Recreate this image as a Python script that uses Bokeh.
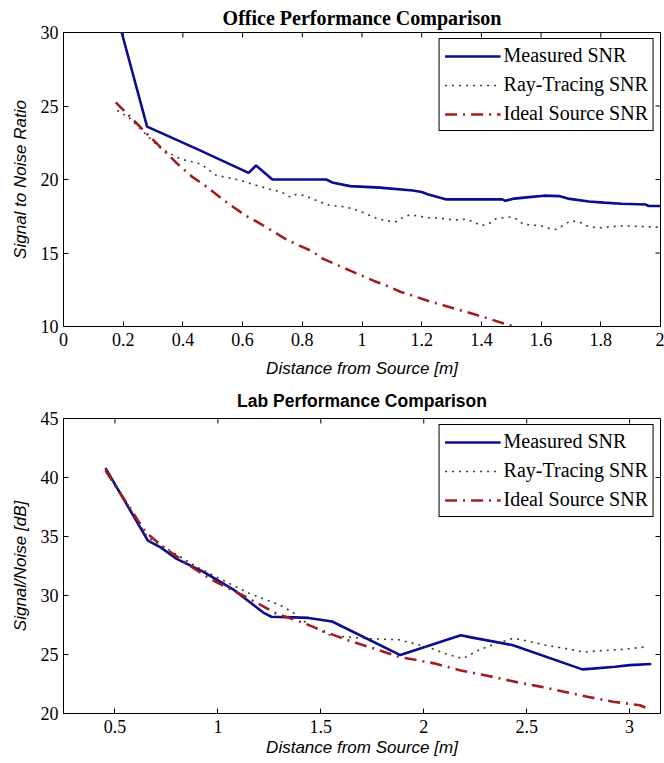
import math
from bokeh.plotting import figure
from bokeh.layouts import column
from bokeh.models import FixedTicker, NumeralTickFormatter, Range1d
from bokeh.embed import file_html
from bokeh.resources import INLINE

# ---------------- Office data ----------------
office_meas_x = [0.195, 0.28, 0.45, 0.62, 0.645, 0.70, 0.88, 0.90, 0.96, 1.06, 1.17, 1.20, 1.22,
                 1.28, 1.47, 1.48, 1.51, 1.56, 1.61, 1.66, 1.69, 1.76, 1.81, 1.87, 1.95, 1.96, 2.0]
office_meas_y = [30.0, 23.6, 22.05, 20.45, 20.95, 20.0, 20.0, 19.8, 19.55, 19.45, 19.25, 19.15, 19.0,
                 18.65, 18.65, 18.55, 18.7, 18.8, 18.9, 18.87, 18.7, 18.5, 18.43, 18.35, 18.3, 18.2, 18.2]

office_ray_x = [0.18, 0.22, 0.32, 0.38, 0.41, 0.46, 0.51, 0.59, 0.63, 0.68, 0.73, 0.76, 0.78, 0.81,
                0.85, 0.89, 0.94, 0.97, 1.01, 1.05, 1.08, 1.11, 1.13, 1.16, 1.22, 1.24, 1.31, 1.35,
                1.38, 1.40, 1.43, 1.45, 1.50, 1.52, 1.54, 1.60, 1.63, 1.65, 1.68, 1.70, 1.73, 1.75,
                1.79, 1.84, 1.88, 2.0]
office_ray_y = [24.7, 24.2, 22.2, 21.5, 21.3, 21.05, 20.3, 19.95, 19.7, 19.4, 19.15, 18.8, 19.0, 18.9,
                18.55, 18.25, 18.15, 18.0, 17.7, 17.35, 17.2, 17.1, 17.35, 17.6, 17.4, 17.4, 17.25, 17.3,
                17.05, 16.85, 17.05, 17.35, 17.45, 17.3, 16.95, 16.85, 16.65, 16.6, 16.95, 17.2, 17.1, 16.85,
                16.7, 16.8, 16.85, 16.75]

office_ideal_x = [0.175, 0.28, 0.38, 0.43, 0.48, 0.53, 0.56, 0.61, 0.65, 0.70, 0.74, 0.79, 0.83, 0.87,
                  0.91, 0.96, 1.0, 1.04, 1.08, 1.13, 1.17, 1.22, 1.28, 1.39, 1.50, 1.55]
office_ideal_y = [25.25, 23.1, 21.1, 20.2, 19.5, 18.7, 18.25, 17.55, 17.1, 16.5, 16.0, 15.5, 15.15, 14.6,
                  14.25, 13.8, 13.45, 13.1, 12.8, 12.35, 12.1, 11.75, 11.4, 10.75, 10.05, 9.7]

office_xticks = [0, 0.2, 0.4, 0.6, 0.8, 1.0, 1.2, 1.4, 1.6, 1.8, 2.0]
office_yticks = [10, 15, 20, 25, 30]

# ---------------- Lab data ----------------
lab_meas_x = [0.454, 0.66, 0.72, 0.80, 0.93, 1.08, 1.225, 1.26, 1.37, 1.44, 1.555, 1.886, 2.18, 2.23,
              2.43, 2.77, 2.82, 2.93, 3.0, 3.105]
lab_meas_y = [40.8, 34.65, 34.1, 33.1, 32.0, 30.45, 28.5, 28.2, 28.15, 28.1, 27.8, 24.95, 26.63, 26.45,
              25.8, 23.74, 23.8, 23.96, 24.1, 24.2]

lab_ray_x = [0.454, 0.66, 0.75, 0.90, 1.0, 1.15, 1.30, 1.37, 1.45, 1.55, 1.72, 1.88, 1.96, 2.04, 2.10,
             2.19, 2.27, 2.33, 2.43, 2.46, 2.59, 2.69, 2.78, 2.84, 2.98, 3.08]
lab_ray_y = [40.8, 34.9, 34.0, 32.4, 31.5, 30.2, 29.2, 28.5, 27.4, 26.6, 26.35, 26.25, 25.9, 25.5, 25.1,
             24.65, 25.4, 25.8, 26.35, 26.3, 25.8, 25.5, 25.2, 25.3, 25.45, 25.65]

lab_ideal_x = [0.454, 0.64, 0.66, 0.735, 0.90, 0.99, 1.15, 1.28, 1.42, 1.53, 1.65, 1.76, 1.88, 2.05,
               2.18, 2.31, 2.44, 2.56, 2.68, 2.80, 2.92, 3.05, 3.10]
lab_ideal_y = [40.6, 35.6, 35.2, 34.1, 32.1, 31.15, 29.75, 28.5, 27.65, 26.86, 26.1, 25.5, 24.8, 24.25,
               23.65, 23.2, 22.7, 22.3, 21.85, 21.4, 21.0, 20.7, 20.35]

lab_xticks = [0.5, 1.0, 1.5, 2.0, 2.5, 3.0]
lab_yticks = [20, 25, 30, 35, 40, 45]

series_labels = ["Measured SNR", "Ray-Tracing SNR", "Ideal Source SNR"]

TICK_FONT = "Liberation Sans Narrow"


def make_fig(title, title_font, title_size, title_standoff, ylabel, xr, yr, xticks, yticks,
             height, border_top, border_bottom, xlabel_standoff, data):
    p = figure(width=664, height=height, output_backend="svg", toolbar_location=None,
               x_range=Range1d(*xr), y_range=Range1d(*yr),
               min_border_left=63, min_border_right=4,
               min_border_top=border_top, min_border_bottom=border_bottom)
    p.title.text = title
    p.title.align = "center"
    p.title.text_font = title_font
    p.title.text_font_size = title_size
    p.title.text_font_style = "bold"
    p.title.text_color = "black"
    p.title.standoff = title_standoff
    p.grid.visible = False
    p.outline_line_color = "black"
    p.outline_line_width = 1
    p.outline_line_alpha = 1
    p.background_fill_color = "white"
    p.border_fill_color = "white"

    for ax, ticks in ((p.xaxis[0], xticks), (p.yaxis[0], yticks)):
        ax.ticker = FixedTicker(ticks=ticks)
        ax.formatter = NumeralTickFormatter(format="0.[0]")
        ax.major_tick_in = 5
        ax.major_tick_out = 0
        ax.minor_tick_line_color = None
        ax.axis_line_color = "black"
        ax.major_tick_line_color = "black"
        ax.major_label_text_font = TICK_FONT
        ax.major_label_text_font_size = "18px"
        ax.major_label_text_color = "black"
        ax.axis_label_text_font = "Liberation Sans"
        ax.axis_label_text_font_style = "italic"
        ax.axis_label_text_font_size = "17px"
        ax.axis_label_text_color = "black"
    p.xaxis.axis_label = "Distance from Source [m]"
    p.yaxis.axis_label = ylabel
    p.xaxis.major_label_standoff = 6
    p.xaxis.axis_label_standoff = xlabel_standoff
    p.yaxis.major_label_standoff = 5
    p.yaxis.axis_label_standoff = 8

    # mirrored inward ticks on the top and right frame edges (MATLAB box style)
    p.scatter(xticks, [yr[1]] * len(xticks), marker="dash", angle=math.pi / 2, size=10,
              line_color="black", line_width=1)
    p.scatter([xr[1]] * len(yticks), yticks, marker="dash", size=10,
              line_color="black", line_width=1)

    (mx, my), (rx, ry), (ix, iy) = data
    p.line(mx, my, line_color="#0c0c8e", line_width=2.6, legend_label=series_labels[0])
    p.line(rx, ry, line_color="#3a3a3a", line_width=1.6, line_dash="2 5",
           legend_label=series_labels[1])
    p.line(ix, iy, line_color="#a51c1c", line_width=2.6, line_dash="12 6 2 6",
           legend_label=series_labels[2])

    lg = p.legend[0]
    lg.location = "top_right"
    lg.margin = 6
    lg.padding = 5
    lg.spacing = 6
    lg.glyph_width = 56
    lg.glyph_height = 22
    lg.label_height = 22
    lg.label_standoff = 3
    lg.label_text_font = "Liberation Serif"
    lg.label_text_font_size = "20px"
    lg.label_text_color = "black"
    lg.border_line_color = "black"
    lg.border_line_width = 1
    lg.border_line_alpha = 1
    lg.background_fill_color = "white"
    lg.background_fill_alpha = 1
    return p


p1 = make_fig("Office Performance Comparison", "Liberation Serif", "20px", 7,
              "Signal to Noise Ratio", (0, 2), (10, 30), office_xticks, office_yticks,
              380, 32, 54, 10,
              [(office_meas_x, office_meas_y), (office_ray_x, office_ray_y),
               (office_ideal_x, office_ideal_y)])
p2 = make_fig("Lab Performance Comparison", "Liberation Sans", "17.5px", 16,
              "Signal/Noise [dB]", (0.25, 3.15), (20, 45), lab_xticks, lab_yticks,
              383, 38, 50, 2,
              [(lab_meas_x, lab_meas_y), (lab_ray_x, lab_ray_y), (lab_ideal_x, lab_ideal_y)])

layout = column(p1, p2, spacing=0)
open("out.html", "w").write(file_html(layout, INLINE))
